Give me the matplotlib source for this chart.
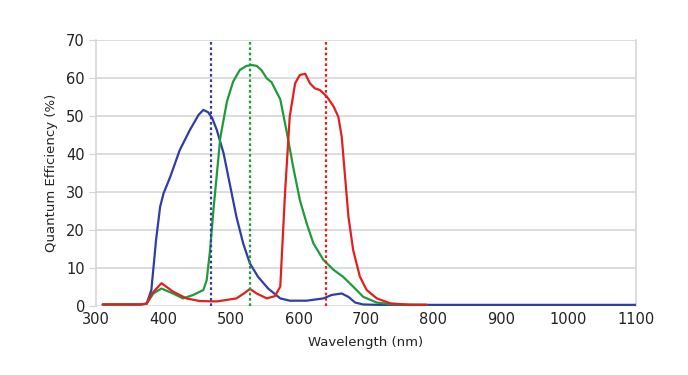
import matplotlib
matplotlib.use("Agg")
import matplotlib.pyplot as plt

# Blue channel
blue_nm = [310, 365, 375, 382, 389, 395, 400, 410, 424, 439, 452, 459, 466, 472, 479, 489, 498, 508, 518, 528, 540, 555, 573, 587, 612, 637, 649, 664, 674, 684, 696, 720, 800, 1100]
blue_qe = [0.4, 0.4, 0.6, 4.2, 17.4, 26.1, 29.6, 34.0, 41.0, 46.3, 50.3, 51.6, 51.0, 49.5, 46.3, 40.2, 32.3, 23.5, 16.5, 11.2, 7.7, 4.6, 2.0, 1.4, 1.4, 2.0, 2.9, 3.3, 2.4, 0.9, 0.4, 0.3, 0.3, 0.3]

# Green channel
green_nm = [310, 365, 375, 385, 397, 414, 429, 444, 459, 464, 469, 474, 481, 484, 489, 494, 503, 513, 523, 531, 538, 545, 553, 560, 573, 583, 592, 602, 612, 622, 637, 652, 666, 681, 696, 716, 740, 790]
green_qe = [0.4, 0.4, 0.6, 3.3, 4.6, 3.3, 2.0, 2.9, 4.2, 6.8, 14.7, 25.3, 38.4, 44.1, 49.0, 53.8, 59.0, 62.1, 63.2, 63.4, 63.2, 62.1, 59.9, 58.9, 54.4, 45.4, 36.7, 27.9, 21.8, 16.5, 12.1, 9.5, 7.7, 5.1, 2.4, 0.9, 0.4, 0.3]

# Red channel
red_nm = [310, 365, 375, 383, 397, 414, 434, 454, 479, 508, 520, 528, 538, 553, 565, 573, 580, 587, 595, 602, 610, 617, 624, 632, 642, 652, 659, 664, 669, 674, 681, 691, 701, 716, 736, 765, 790]
red_qe = [0.4, 0.4, 0.6, 3.3, 6.0, 3.8, 2.0, 1.3, 1.2, 2.0, 3.4, 4.5, 3.3, 2.0, 2.6, 5.1, 29.6, 49.8, 58.6, 60.8, 61.1, 58.6, 57.3, 56.8, 55.1, 52.5, 49.8, 44.6, 34.0, 23.5, 14.7, 7.7, 4.2, 2.0, 0.7, 0.3, 0.3]

# Vertical peak markers
marker_nm = [470, 528, 640]

x_ticks = [300, 400, 500, 600, 700, 800, 900, 1000, 1100]
y_ticks = [0, 10, 20, 30, 40, 50, 60, 70]

c_blue = "#2f3da6"
c_green = "#1f9a3a"
c_red = "#e0201e"

fig = plt.figure(figsize=(6.88, 3.75), dpi=100)
ax = fig.add_axes([96/688, 69/375, 540/688, 266/375])

for v in y_ticks:
    ax.axhline(v, color="#d3d3d3", lw=1.1, zorder=0)

kw = dict(lw=1.6, zorder=3, solid_joinstyle="round", solid_capstyle="round")
ax.plot(blue_nm, blue_qe, color=c_blue, **kw)
ax.plot(green_nm, green_qe, color=c_green, **kw)
ax.plot(red_nm, red_qe, color=c_red, **kw)

for x, c in zip(marker_nm, [c_blue, c_green, c_red]):
    ax.plot([x, x], [0, 70], color=c, lw=1.6, ls=(0, (1.2, 1.2)), zorder=4)

ax.set_xlim(300, 1100)
ax.set_ylim(0, 70)
ax.set_xticks(x_ticks)
ax.set_yticks(y_ticks)
ax.set_xticklabels([str(t) for t in x_ticks])
ax.set_yticklabels([str(t) for t in y_ticks])

for s in ["top", "bottom"]:
    ax.spines[s].set_visible(False)
for s in ["left", "right"]:
    ax.spines[s].set_color("#d3d3d3")
    ax.spines[s].set_linewidth(1.1)

ax.tick_params(axis="y", length=5, color="#d3d3d3", labelsize=10.5, pad=3, labelcolor="#222222")
ax.tick_params(axis="x", length=0, labelsize=10.5, pad=4, labelcolor="#222222")

ax.set_xlabel("Wavelength (nm)", fontsize=9.5, color="#222222", labelpad=7)
ax.set_ylabel("Quantum Efficiency (%)", fontsize=9.5, color="#222222", labelpad=6)

fig.savefig("out.png", dpi=100, facecolor="white")
